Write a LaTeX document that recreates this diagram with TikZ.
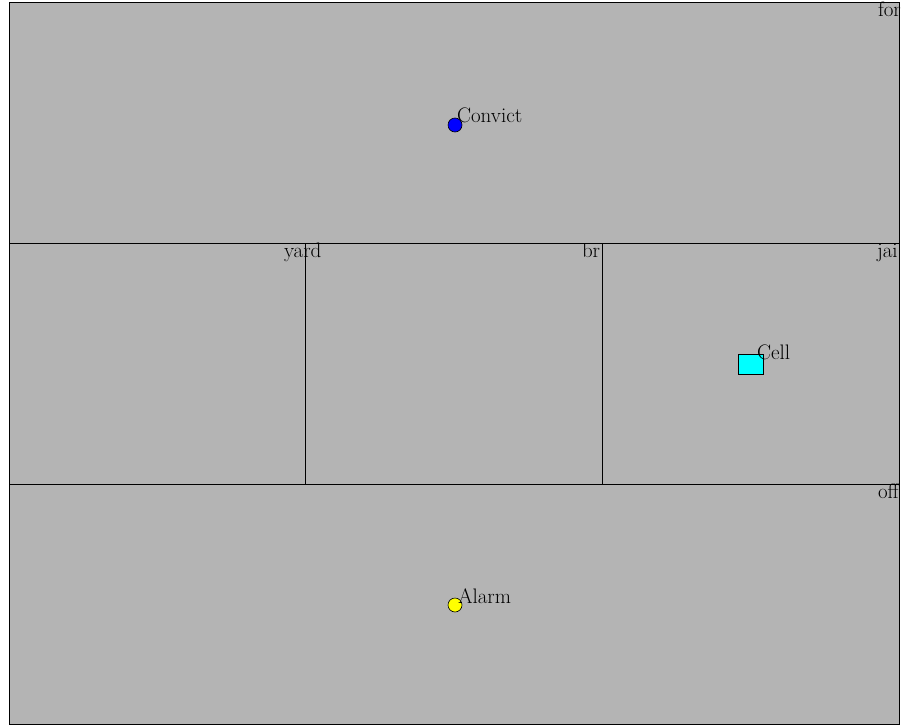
\documentclass[tikz,border=0pt]{standalone}
\usepackage{fontspec}
\definecolor{roomgray}{RGB}{180,180,180}
\definecolor{convictblue}{RGB}{0,0,255}
\definecolor{cellcyan}{RGB}{0,255,255}
\definecolor{alarmyellow}{RGB}{255,255,0}
\begin{document}
\begin{tikzpicture}[x=1pt,y=-1pt,
  room/.style={draw=black, fill=roomgray, line width=1pt, rectangle, inner sep=0pt, outer sep=0pt, anchor=north west},
  lbl/.style={anchor=base west, inner sep=0pt, outer sep=0pt, font=\fontsize{21}{24}\selectfont},
  dot/.style={circle, draw=black, line width=0.6pt, inner sep=0pt, minimum size=14pt},
  box/.style={rectangle, draw=black, line width=0.8pt, inner sep=0pt, minimum width=25pt, minimum height=20pt}]
\fill[white] (0,0) rectangle (904,725);
\clip (0,0) rectangle (904,725);
% rooms
\node[room, minimum width=890pt, minimum height=240pt] (forest) at (9,3) {};
\node[room, minimum width=296pt, minimum height=241pt] (yard) at (9,243) {};
\node[room, minimum width=297pt, minimum height=241pt] (bridge) at (305,243) {};
\node[room, minimum width=297pt, minimum height=241pt] (jail) at (602,243) {};
\node[room, minimum width=890pt, minimum height=240pt] (office) at (9,484) {};
% room labels
\node[lbl] (forestlbl) at (878,17) {for};
\node[lbl] (yardlbl) at (284,257) {yard};
\begin{scope}
\clip (305,243) rectangle (602,484);
\node[lbl] (bridgelbl) at (582,257) {br};
\end{scope}
\node[lbl] (jaillbl) at (877,257) {jai};
\node[lbl] (officelbl) at (878,498) {off};
% items
\node[dot, fill=convictblue] (convict) at (455,125) {};
\node[lbl] (convictlbl) at (457,122) {Convict};
\node[box, fill=cellcyan] (cell) at (750.5,364) {};
\node[lbl] (celllbl) at (757,359) {Cell};
\node[dot, fill=alarmyellow] (alarm) at (455,605) {};
\node[lbl] (alarmlbl) at (458,603) {Alarm};
\end{tikzpicture}
\end{document}
